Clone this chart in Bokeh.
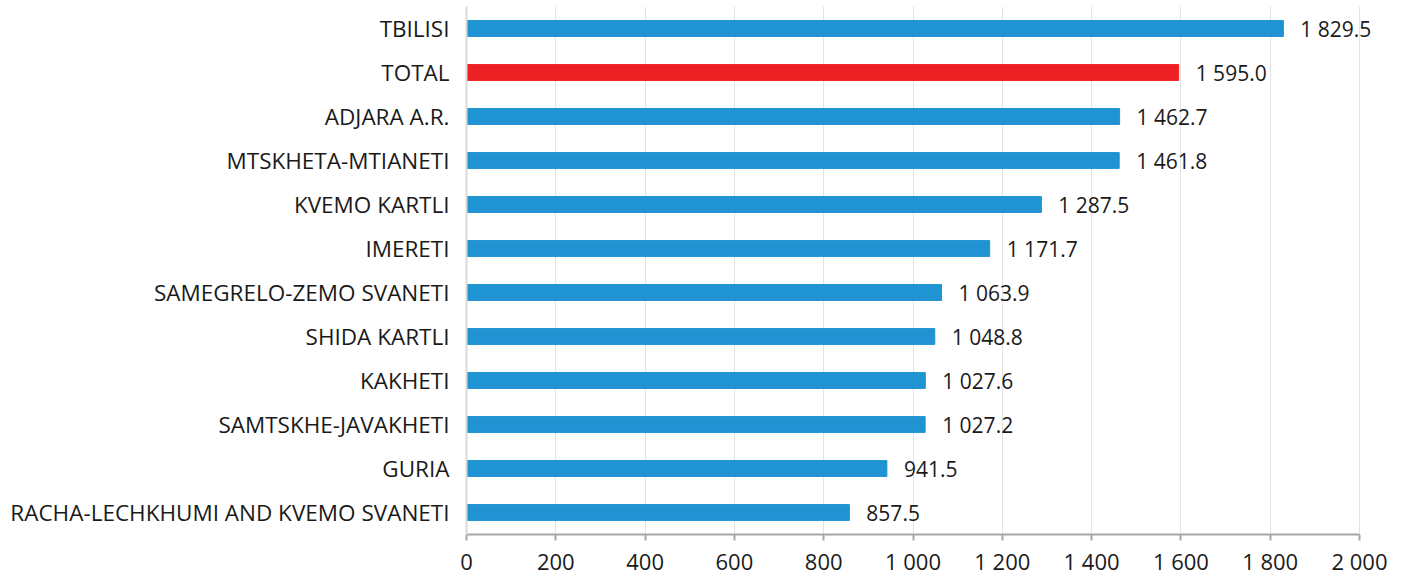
from bokeh.plotting import figure
from bokeh.models import ColumnDataSource, FixedTicker, FactorRange, Range1d, LabelSet
from bokeh.embed import file_html
from bokeh.resources import INLINE
from bokeh.core.properties import value

regions = ["TBILISI", "TOTAL", "ADJARA A.R.", "MTSKHETA-MTIANETI", "KVEMO KARTLI",
           "IMERETI", "SAMEGRELO-ZEMO SVANETI", "SHIDA KARTLI", "KAKHETI",
           "SAMTSKHE-JAVAKHETI", "GURIA", "RACHA-LECHKHUMI AND KVEMO SVANETI"]
values = [1829.5, 1595.0, 1462.7, 1461.8, 1287.5, 1171.7, 1063.9, 1048.8,
          1027.6, 1027.2, 941.5, 857.5]
x_ticks = [0, 200, 400, 600, 800, 1000, 1200, 1400, 1600, 1800, 2000]
x_tick_labels = ["0", "200", "400", "600", "800", "1 000", "1 200", "1 400",
                 "1 600", "1 800", "2 000"]

BLUE = "#2093d2"
RED = "#ed2024"
TXT = "#1a1a1a"


def fmt(v):
    return f"{v:,.1f}".replace(",", " ")


colors = [RED if r == "TOTAL" else BLUE for r in regions]
labels = [fmt(v) for v in values]

src = ColumnDataSource(dict(region=regions, val=values, color=colors, label=labels))

# frame extends a little past 2000 so value labels are not clipped;
# axis line and grid are bounded to [0, 2000]
x_max = x_ticks[-1]
x_end = x_max * (1393 - 466) / (1359 - 466)

p = figure(width=1395, height=578, output_backend="svg", toolbar_location=None,
           y_range=FactorRange(factors=list(reversed(regions))),
           x_range=Range1d(0, x_end),
           min_border_left=466, min_border_right=2, min_border_top=6,
           min_border_bottom=41)
p.outline_line_color = None

p.hbar(y="region", right="val", left=0, height=0.36, color="color",
       line_color="color", source=src)
p.add_layout(LabelSet(x="val", y="region", text="label", source=src, x_offset=17,
                      text_baseline="middle", text_align="left",
                      text_font_size="21px", text_font=value("Open Sans"),
                      text_color=TXT))

p.xaxis.ticker = FixedTicker(ticks=x_ticks)
p.xaxis.bounds = (0, x_max)
p.xaxis.major_label_overrides = {t: l for t, l in zip(x_ticks, x_tick_labels)}
p.xaxis.axis_line_color = "#a6a6a6"
p.xaxis.axis_line_width = 2
p.xaxis.major_tick_line_color = "#a6a6a6"
p.xaxis.major_tick_line_width = 2
p.xaxis.major_tick_out = 6
p.xaxis.major_tick_in = 0
p.xaxis.minor_tick_line_color = None
p.xaxis.major_label_text_font_size = "22px"
p.xaxis.major_label_text_font = "Open Sans"
p.xaxis.major_label_text_color = TXT
p.xaxis.major_label_standoff = 5

p.yaxis.axis_line_color = "#d9d9d9"
p.yaxis.axis_line_width = 2
p.yaxis.major_tick_line_color = None
p.yaxis.minor_tick_line_color = None
p.yaxis.major_label_text_font_size = "22.5px"
p.yaxis.major_label_text_font = "Open Sans"
p.yaxis.major_label_text_color = TXT
p.yaxis.major_label_standoff = 11

p.xgrid.grid_line_color = "#e3e3e3"
p.xgrid.grid_line_width = 1
p.xgrid.bounds = (0, x_max)
p.ygrid.grid_line_color = None

open("out.html", "w").write(file_html(p, INLINE))
